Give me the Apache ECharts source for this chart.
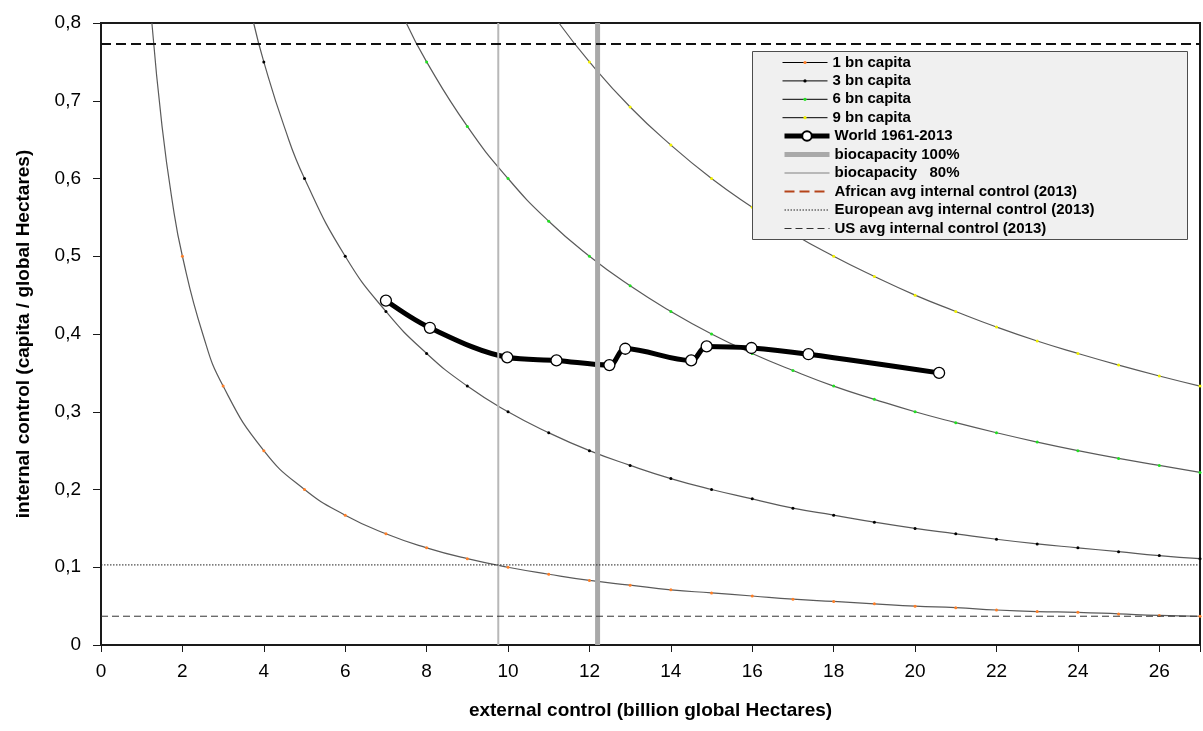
<!DOCTYPE html>
<html style="height: 100%">
<head>
<meta charset="utf-8">
</head>
<body style="height: 100%; margin: 0">
<div id="container" style="width: 1203px; height: 731px"></div>
<script type="text/javascript" src="https://cdn.jsdelivr.net/npm/echarts@6/dist/echarts.min.js"></script>
<script type="text/javascript">
// population curves
var curve1X = [1.25, 1.5, 1.75, 2, 2.5, 3, 4, 5, 6, 7, 8, 9, 10, 11, 12, 13, 14, 15, 16, 17, 18, 19, 20, 21, 22, 23, 24, 25, 26, 27];
var curve1Y = [0.8, 0.667, 0.571, 0.5, 0.4, 0.333, 0.25, 0.2, 0.167, 0.143, 0.125, 0.111, 0.1, 0.091, 0.083, 0.077, 0.071, 0.067, 0.063, 0.059, 0.056, 0.053, 0.05, 0.048, 0.045, 0.043, 0.042, 0.04, 0.038, 0.037];
var curve3X = [3.75, 4, 4.5, 5, 6, 7, 8, 9, 10, 11, 12, 13, 14, 15, 16, 17, 18, 19, 20, 21, 22, 23, 24, 25, 26, 27];
var curve3Y = [0.8, 0.75, 0.667, 0.6, 0.5, 0.429, 0.375, 0.333, 0.3, 0.273, 0.25, 0.231, 0.214, 0.2, 0.188, 0.176, 0.167, 0.158, 0.15, 0.143, 0.136, 0.13, 0.125, 0.12, 0.115, 0.111];
var curve6X = [7.5, 8, 9, 10, 11, 12, 13, 14, 15, 16, 17, 18, 19, 20, 21, 22, 23, 24, 25, 26, 27];
var curve6Y = [0.8, 0.75, 0.667, 0.6, 0.545, 0.5, 0.462, 0.429, 0.4, 0.375, 0.353, 0.333, 0.316, 0.3, 0.286, 0.273, 0.261, 0.25, 0.24, 0.231, 0.222];
var curve9X = [11.25, 12, 13, 14, 15, 16, 17, 18, 19, 20, 21, 22, 23, 24, 25, 26, 27];
var curve9Y = [0.8, 0.75, 0.692, 0.643, 0.6, 0.563, 0.529, 0.5, 0.474, 0.45, 0.429, 0.409, 0.391, 0.375, 0.36, 0.346, 0.333];

// world path 1961-2013
var worldX = [7.00, 8.08, 9.98, 11.19, 12.49, 12.88, 14.50, 14.88, 15.98, 17.38, 20.59];
var worldY = [0.443, 0.408, 0.370, 0.366, 0.360, 0.381, 0.366, 0.384, 0.382, 0.374, 0.350];

// reference lines
var bioNames = ['biocapacity 100%', 'biocapacity   80%'];
var bioValues = [12.2, 9.76];
var levelNames = ['African avg internal control (2013)', 'European avg internal control (2013)', 'US avg internal control (2013)'];
var levelValues = [0.773, 0.103, 0.037];

var curveNames = ['1 bn capita', '3 bn capita', '6 bn capita', '9 bn capita'];
var curveDotColors = ['#ff7f27', '#000000', '#22e022', '#f0f000'];

var FONT = 'Arial, "Liberation Sans", sans-serif';
var X_MIN = 0, X_MAX = 27, Y_MIN = 0, Y_MAX = 0.8;

function pairs(xs, ys, showDots) {
    var out = [];
    for (var i = 0; i < xs.length; i++) {
        var item = { value: [xs[i], ys[i]] };
        if (showDots && !Number.isInteger(xs[i])) item.symbol = 'none';
        out.push(item);
    }
    return out;
}

var dom = document.getElementById("container");
var myChart = echarts.init(dom, null, { renderer: 'canvas' });

var series = [];
var curveXs = [curve1X, curve3X, curve6X, curve9X];
var curveYs = [curve1Y, curve3Y, curve6Y, curve9Y];
for (var c = 0; c < 4; c++) {
    series.push({
        name: curveNames[c],
        type: 'line',
        smooth: 0.5,
        symbol: 'circle',
        symbolSize: 3,
        itemStyle: { color: curveDotColors[c] },
        lineStyle: { color: '#5a5a5a', width: 1.2 },
        z: 2,
        data: pairs(curveXs[c], curveYs[c], true)
    });
}

series.push({
    name: 'World 1961-2013',
    type: 'line',
    smooth: 0.35,
    symbol: 'circle',
    symbolSize: 11,
    itemStyle: { color: '#ffffff', borderColor: '#000000', borderWidth: 1.3 },
    lineStyle: { color: '#000000', width: 5 },
    z: 3,
    data: pairs(worldX, worldY, false)
});

var bioWidths = [5, 2];
var bioColors = ['#a9a9a9', '#b8b8b8'];
for (var b = 0; b < bioNames.length; b++) {
    series.push({
        name: bioNames[b],
        type: 'line',
        symbol: 'none',
        lineStyle: { color: bioColors[b], width: bioWidths[b] },
        z: 4,
        data: [[bioValues[b], Y_MIN], [bioValues[b], Y_MAX]]
    });
}

var levelStyles = [
    { color: '#111111', width: 2, type: [10, 5] },
    { color: '#222222', width: 1, type: [1.5, 1.5] },
    { color: '#333333', width: 1, type: [7, 4] }
];
for (var l = 0; l < levelNames.length; l++) {
    series.push({
        name: levelNames[l],
        type: 'line',
        symbol: 'none',
        lineStyle: levelStyles[l],
        z: 4,
        data: [[X_MIN, levelValues[l]], [X_MAX, levelValues[l]]]
    });
}

var legendText = { fontFamily: FONT, fontSize: 15, fontWeight: 'bold', color: '#000' };
var noDot = { opacity: 0 };
var curveLegend = curveNames.map(function (n) {
    return { name: n, lineStyle: { color: '#000', width: 1 } };
});

option = {
    animation: false,
    backgroundColor: '#ffffff',
    grid: {
        left: 101, right: 2, top: 23, bottom: 86,
        show: true, borderColor: '#1a1a1a', borderWidth: 2, backgroundColor: 'transparent'
    },
    graphic: [{
        type: 'rect',
        left: 752, top: 51, z: 10,
        shape: { width: 435, height: 188 },
        style: { fill: '#f0f0f0', stroke: '#4d4d4d', lineWidth: 1 }
    }],
    legend: [{
        orient: 'vertical', left: 782, top: 55, padding: 0, z: 20,
        itemWidth: 45, itemHeight: 4, itemGap: 3.4,
        textStyle: legendText,
        selectedMode: false,
        data: curveLegend
    }, {
        orient: 'vertical', left: 782, top: 128.5, padding: 0, z: 20,
        itemWidth: 45, itemHeight: 12, itemGap: 3.5,
        textStyle: legendText,
        selectedMode: false,
        data: [
            { name: 'World 1961-2013', lineStyle: { width: 5 } },
            { name: bioNames[0], itemStyle: noDot, lineStyle: { width: 5 } },
            { name: bioNames[1], itemStyle: noDot, lineStyle: { width: 2 } },
            { name: levelNames[0], itemStyle: noDot, lineStyle: { color: '#b5441a', width: 2 } },
            { name: levelNames[1], itemStyle: noDot, lineStyle: { width: 1 } },
            { name: levelNames[2], itemStyle: noDot, lineStyle: { width: 1 } }
        ]
    }],
    xAxis: {
        type: 'value',
        min: X_MIN, max: X_MAX, interval: 2,
        name: 'external control (billion global Hectares)',
        nameLocation: 'middle', nameGap: 56,
        nameTextStyle: { fontFamily: FONT, fontSize: 19, fontWeight: 'bold', color: '#000' },
        axisLine: { show: true, onZero: false, lineStyle: { color: '#1a1a1a', width: 2 } },
        axisTick: { show: true, length: 7, lineStyle: { color: '#1a1a1a', width: 1 } },
        axisLabel: {
            fontFamily: FONT, fontSize: 19, color: '#000', margin: 17,
            formatter: function (v) { return v % 2 === 0 ? String(v) : ''; }
        },
        splitLine: { show: false }
    },
    yAxis: {
        type: 'value',
        min: Y_MIN, max: Y_MAX, interval: 0.1,
        name: 'internal control (capita / global Hectares)',
        nameLocation: 'middle', nameGap: 68,
        nameTextStyle: { fontFamily: FONT, fontSize: 19, fontWeight: 'bold', color: '#000' },
        axisLine: { show: true, onZero: false, lineStyle: { color: '#1a1a1a', width: 2 } },
        axisTick: { show: true, length: 8, lineStyle: { color: '#1a1a1a', width: 1 } },
        axisLabel: {
            fontFamily: FONT, fontSize: 19, color: '#000', margin: 20,
            formatter: function (v) { return v === 0 ? '0' : v.toFixed(1).replace('.', ','); }
        },
        splitLine: { show: false }
    },
    series: series
};

if (option && typeof option === "object") {
    myChart.setOption(option, true);
}
</script>
</body>
</html>
